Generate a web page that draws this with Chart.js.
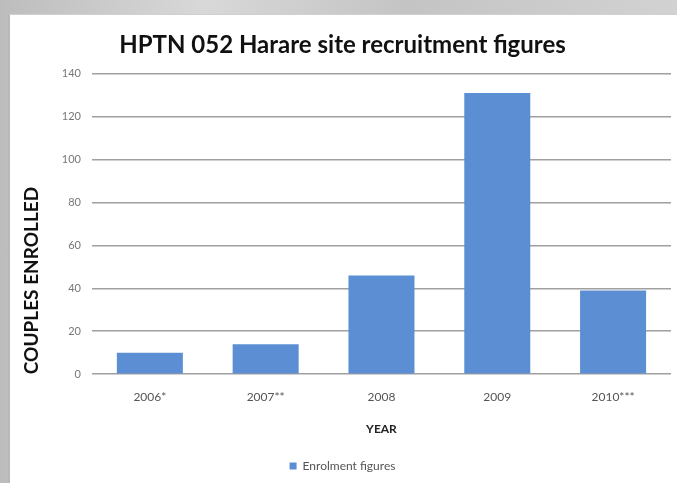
<!DOCTYPE html>
<html>
<head>
<meta charset="utf-8">
<script src="https://cdn.jsdelivr.net/npm/chart.js@4"></script>
<style>
  html, body { margin: 0; padding: 0; }
  body { width: 677px; height: 483px; overflow: hidden; position: relative;
         background: linear-gradient(90deg, #bdbdbd, #d8d8d8 30%, #c4c4c4 60%, #d2d2d2); }
  #panel { position: absolute; left: 8px; top: 14px; width: 669px; height: 469px;
           background: #fff; border-left: 2px solid #b8b8b8; border-top: 1px solid #d0d0d0; box-sizing: border-box; }
</style>
</head>
<body>
<div id="panel"><canvas id="grafico" width="667" height="468"></canvas></div>
<script>
var anos = ['2006*', '2007**', '2008', '2009', '2010***'];
var casais = [10, 14, 46, 131, 39];
var marcasY = [0, 20, 40, 60, 80, 100, 120, 140];

var ctx = document.getElementById('grafico').getContext('2d');
var grafico = new Chart(ctx, {
    type: 'bar',
    data: {
        labels: anos,
        datasets: [{
            label: 'Enrolment figures',
            data: casais,
            backgroundColor: '#5b8ed3',
            categoryPercentage: 1,
            barPercentage: 0.57
        }]
    },
    options: {
        responsive: false,
        animation: false,
        layout: { padding: { left: 4, right: 6, top: 6, bottom: 1 } },
        plugins: {
            title: {
                display: true,
                text: 'HPTN 052 Harare site recruitment figures',
                color: '#111',
                font: { family: 'Lato', size: 24, weight: 'bold' },
                padding: { top: 10, bottom: 14 }
            },
            legend: {
                position: 'bottom',
                labels: {
                    boxWidth: 7, boxHeight: 7,
                    color: '#555',
                    font: { family: 'Lato', size: 12 },
                    padding: 13
                }
            },
            tooltip: { enabled: false }
        },
        scales: {
            x: {
                grid: { display: false },
                border: { display: false },
                ticks: { color: '#555', font: { family: 'Lato', size: 12 }, padding: 8 },
                title: { display: true, text: 'YEAR', color: '#222',
                         font: { family: 'Lato', size: 12, weight: 'bold' }, padding: { top: 9, bottom: 11 } }
            },
            y: {
                min: 0, max: 140,
                afterBuildTicks: function (eixo) { eixo.ticks = marcasY.map(function (v) { return { value: v }; }); },
                grid: { color: '#a0a0a0', lineWidth: 1.6, drawTicks: false },
                border: { display: false },
                ticks: { color: '#777', font: { family: 'Lato', size: 11 }, padding: 11 },
                title: { display: true, text: 'COUPLES ENROLLED', align: 'start', color: '#111',
                         font: { family: 'Lato', size: 19, weight: 'bold' }, padding: { top: 6, bottom: 8 } }
            }
        }
    }
});
</script>
</body>
</html>
